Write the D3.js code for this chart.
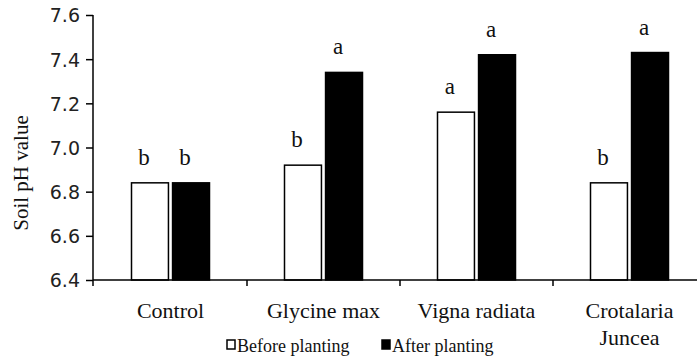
<!DOCTYPE html>
<html>
<head>
<meta charset="utf-8">
<script src="https://cdn.jsdelivr.net/npm/d3@7"></script>
<style>
  body { margin: 0; background: #fff; }
  svg { display: block; }
  .tick-label { font-family: "DejaVu Sans", Verdana, sans-serif; font-size: 19px; fill: #222; }
  .serif { font-family: "Liberation Serif", "Times New Roman", serif; fill: #111; }
</style>
</head>
<body>
<div id="chart"></div>
<script>
// chart values
const categories = ["Control", "Glycine max", "Vigna radiata", "Crotalaria\nJuncea"];
const series = ["Before planting", "After planting"];
const beforeValues = [6.84, 6.92, 7.16, 6.84];
const afterValues = [6.84, 7.34, 7.42, 7.43];
const beforeLetters = ["b", "b", "a", "b"];
const afterLetters = ["b", "a", "a", "a"];
const yTicks = [6.4, 6.6, 6.8, 7.0, 7.2, 7.4, 7.6];

const width = 697, height = 360;

const svg = d3.select("#chart").append("svg")
    .attr("width", width)
    .attr("height", height);

// scales
const x = d3.scaleBand()
    .domain(categories)
    .range([94, 706])
    .padding(0);

const xInner = d3.scaleBand()
    .domain(series)
    .range([-39, 39])
    .paddingInner(0.1);

const y = d3.scaleLinear()
    .domain([6.4, 7.6])
    .range([280, 15]);

// build rows for bars
const rows = [];
categories.forEach((c, i) => {
    rows.push({cat: c, s: series[0], v: beforeValues[i], letter: beforeLetters[i]});
    rows.push({cat: c, s: series[1], v: afterValues[i], letter: afterLetters[i]});
});

// bars
svg.append("g").selectAll("rect")
    .data(rows)
    .join("rect")
    .attr("x", d => x(d.cat) + x.bandwidth() / 2 + xInner(d.s))
    .attr("y", d => y(d.v))
    .attr("width", xInner.bandwidth())
    .attr("height", d => y(6.4) - y(d.v))
    .attr("fill", d => d.s === series[0] ? "#fff" : "#000")
    .attr("stroke", "#000")
    .attr("stroke-width", 1.5);

// significance letters
svg.append("g").selectAll("text")
    .data(rows)
    .join("text")
    .attr("class", "serif")
    .attr("x", d => x(d.cat) + x.bandwidth() / 2 + xInner(d.s) + xInner.bandwidth() / 2 - 6)
    .attr("y", d => y(d.v) - 18)
    .attr("text-anchor", "middle")
    .style("font-size", "23px")
    .text(d => d.letter);

// y axis
const yAxis = d3.axisLeft(y)
    .tickValues(yTicks)
    .tickSize(7)
    .tickPadding(6)
    .tickFormat(d3.format(".1f"));

const gy = svg.append("g")
    .attr("transform", "translate(93,0)")
    .call(yAxis);
gy.select(".domain")
    .attr("d", "M0," + y(7.6) + "V" + (y(6.4) + 6))
    .attr("stroke-width", 1.5);
gy.selectAll(".tick line").attr("stroke-width", 1.5);
gy.selectAll(".tick text").attr("class", "tick-label").attr("dy", "0.36em");

// x axis line and boundary ticks
const gx = svg.append("g");
gx.append("line")
    .attr("x1", 93).attr("x2", width)
    .attr("y1", y(6.4)).attr("y2", y(6.4))
    .attr("stroke", "#000")
    .attr("stroke-width", 1.5);

gx.selectAll(".bound")
    .data(categories.slice(1))
    .join("line")
    .attr("class", "bound")
    .attr("x1", d => x(d)).attr("x2", d => x(d))
    .attr("y1", y(6.4)).attr("y2", y(6.4) + 6)
    .attr("stroke", "#000")
    .attr("stroke-width", 1.5);

// category labels
const catText = gx.selectAll(".cat")
    .data(categories)
    .join("text")
    .attr("class", "cat serif")
    .attr("text-anchor", "middle")
    .style("font-size", "22px")
    .attr("y", 318);

catText.selectAll("tspan")
    .data(d => d.split("\n").map(t => ({t: t, cat: d})))
    .join("tspan")
    .attr("x", d => x(d.cat) + x.bandwidth() / 2)
    .attr("dy", (d, i) => i === 0 ? 0 : 27)
    .text(d => d.t);

// y axis title
svg.append("text")
    .attr("class", "serif")
    .attr("transform", "translate(28,173) rotate(-90)")
    .attr("text-anchor", "middle")
    .style("font-size", "21px")
    .text("Soil pH value");

// legend
const legendX = [227, 382];
const legend = svg.append("g").selectAll("g")
    .data(series)
    .join("g")
    .attr("transform", (d, i) => "translate(" + legendX[i] + ",340)");

legend.append("rect")
    .attr("width", 8)
    .attr("height", 9)
    .attr("fill", (d, i) => i === 0 ? "#fff" : "#000")
    .attr("stroke", "#000")
    .attr("stroke-width", 1.5);

legend.append("text")
    .attr("class", "serif")
    .attr("x", 10)
    .attr("y", 12)
    .style("font-size", "18px")
    .text(d => d);
</script>
</body>
</html>
